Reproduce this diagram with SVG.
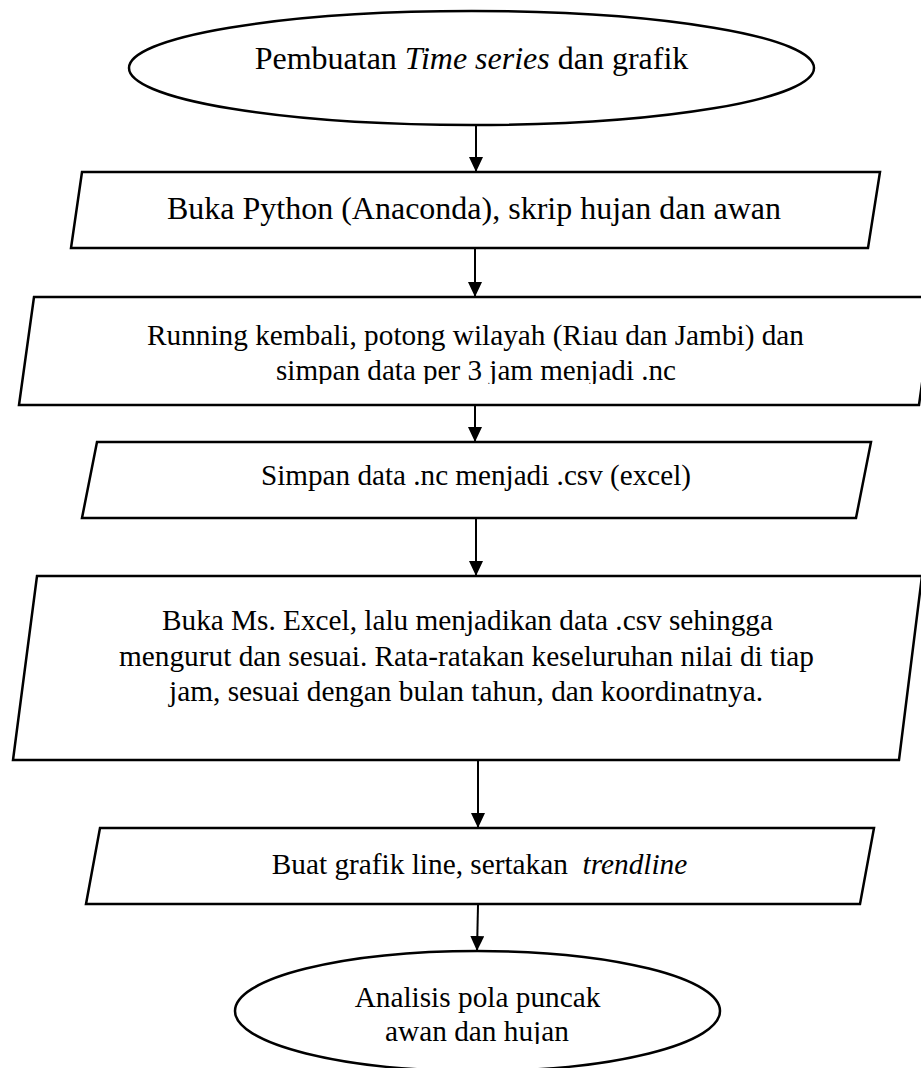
<svg xmlns="http://www.w3.org/2000/svg" width="921" height="1068" viewBox="0 0 921 1068">
<style>
.shape{fill:#fff;stroke:#000;stroke-width:2.5}
.conn{stroke:#000;stroke-width:2;fill:none}
text{font-family:"Liberation Serif","Times New Roman",serif;font-size:32px;fill:#000;text-anchor:middle}
.sm{font-size:29.3px}
.it{font-style:italic}
</style>
<defs>
<marker id="arr" markerUnits="userSpaceOnUse" markerWidth="16" markerHeight="15" refX="15" refY="7" orient="auto">
<path d="M0,0 L15,7 L0,14 z" fill="#000"/>
</marker>
<clipPath id="clipA"><rect x="0" y="355" width="921" height="29"/></clipPath>
<clipPath id="clipB"><rect x="0" y="1015" width="921" height="29"/></clipPath>
</defs>
<rect width="921" height="1068" fill="#fff"/>
<g id="connectors">
<line class="conn" x1="476" y1="126" x2="476" y2="172" marker-end="url(#arr)"/>
<line class="conn" x1="475" y1="249" x2="475" y2="297" marker-end="url(#arr)"/>
<line class="conn" x1="475" y1="406" x2="475" y2="442" marker-end="url(#arr)"/>
<line class="conn" x1="476" y1="519" x2="476" y2="576" marker-end="url(#arr)"/>
<line class="conn" x1="478" y1="761" x2="478" y2="828" marker-end="url(#arr)"/>
<line class="conn" x1="478" y1="905" x2="477" y2="951" marker-end="url(#arr)"/>
</g>
<g id="start">
<ellipse class="shape" cx="471.5" cy="68" rx="342.5" ry="57"/>
<text x="471.5" y="69">Pembuatan <tspan class="it">Time series</tspan> dan grafik</text>
</g>
<g id="step1">
<polygon class="shape" points="82,172 880,172 868,248 71,248"/>
<text x="474" y="219">Buka Python (Anaconda), skrip hujan dan awan</text>
</g>
<g id="step2">
<polygon class="shape" points="34,297 934,297 919,405 19,405"/>
<text class="sm" x="475.5" y="345" textLength="657" lengthAdjust="spacingAndGlyphs">Running kembali, potong wilayah (Riau dan Jambi) dan</text>
<text class="sm" x="476" y="380" clip-path="url(#clipA)" textLength="400" lengthAdjust="spacingAndGlyphs">simpan data per 3 jam menjadi .nc</text>
</g>
<g id="step3">
<polygon class="shape" points="97,442 871,442 856,518 82,518"/>
<text class="sm" x="476" y="485" textLength="430" lengthAdjust="spacingAndGlyphs">Simpan data .nc menjadi .csv (excel)</text>
</g>
<g id="step4">
<polygon class="shape" points="37,576 922,576 899,760 13,760"/>
<text class="sm" x="467.5" y="630" textLength="611" lengthAdjust="spacingAndGlyphs">Buka Ms. Excel, lalu menjadikan data .csv sehingga</text>
<text class="sm" x="466.5" y="666" textLength="695" lengthAdjust="spacingAndGlyphs">mengurut dan sesuai. Rata-ratakan keseluruhan nilai di tiap</text>
<text class="sm" x="466" y="701" textLength="594" lengthAdjust="spacingAndGlyphs">jam, sesuai dengan bulan tahun, dan koordinatnya.</text>
</g>
<g id="step5">
<polygon class="shape" points="100,828 874,828 860,904 86,904"/>
<text class="sm" x="479.5" y="874" xml:space="preserve">Buat grafik line, sertakan  <tspan class="it">trendline</tspan></text>
</g>
<g id="end">
<ellipse class="shape" cx="477.5" cy="1011" rx="242.5" ry="60"/>
<text class="sm" x="477.5" y="1007">Analisis pola puncak</text>
<text class="sm" x="477" y="1041" clip-path="url(#clipB)">awan dan hujan</text>
</g>
</svg>
